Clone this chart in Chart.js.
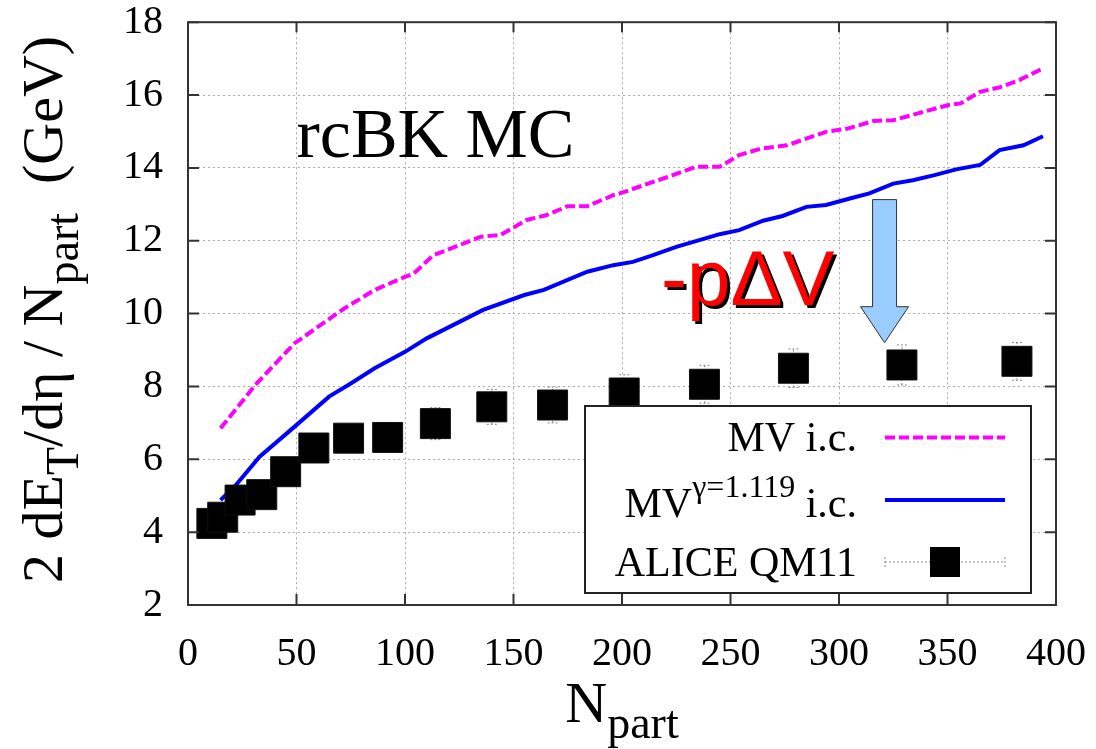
<!DOCTYPE html>
<html>
<head>
<meta charset="utf-8">
<script src="https://cdn.jsdelivr.net/npm/chart.js@4.4.1/dist/chart.umd.min.js"></script>
<style>
  body { margin: 0; background: #fff; }
  #wrap { width: 1096px; height: 749px; }
</style>
</head>
<body>
<div id="wrap"><canvas id="mycanvas" width="1096" height="749"></canvas></div>
<script>
// MV initial condition (dashed magenta)
var npartMV = [15, 31, 49, 72, 86, 100, 104, 113, 135, 144, 156, 165, 175, 184, 196, 199, 221, 234, 245, 254, 264, 276, 294, 304, 316, 325, 336, 350, 356, 365, 374, 383, 394];
var etMV    = [6.85, 8.04, 9.18, 10.14, 10.65, 11.01, 11.1, 11.6, 12.11, 12.16, 12.57, 12.70, 12.95, 12.95, 13.25, 13.3, 13.75, 14.03, 14.03, 14.35, 14.53, 14.62, 14.99, 15.08, 15.29, 15.31, 15.49, 15.72, 15.77, 16.09, 16.21, 16.41, 16.73];

// MV^gamma initial condition (solid blue)
var npartGamma = [15, 22, 33, 49, 65, 75, 86, 100, 110, 136, 155, 164, 184, 196, 205, 214, 225, 238, 245, 254, 265, 274, 285, 294, 305, 314, 325, 334, 344, 354, 365, 374, 385, 394];
var etGamma    = [4.88, 5.29, 6.07, 6.89, 7.72, 8.08, 8.5, 8.95, 9.32, 10.1, 10.51, 10.65, 11.15, 11.33, 11.42, 11.6, 11.83, 12.06, 12.18, 12.29, 12.55, 12.68, 12.93, 12.98, 13.16, 13.3, 13.57, 13.66, 13.8, 13.96, 14.08, 14.49, 14.62, 14.87];

// ALICE QM11 data
var npartAlice = [11, 16, 24, 34, 45, 58, 74, 92, 114, 140, 168, 201, 238, 279, 329, 382];
var etAlice    = [4.24, 4.41, 4.88, 5.03, 5.66, 6.31, 6.58, 6.6, 6.98, 7.44, 7.49, 7.82, 8.06, 8.5, 8.59, 8.69];
var errAlice   = [0.3, 0.3, 0.3, 0.3, 0.3, 0.35, 0.35, 0.4, 0.44, 0.48, 0.49, 0.5, 0.52, 0.53, 0.55, 0.52];

var xTicks = [0, 50, 100, 150, 200, 250, 300, 350, 400];
var yTicks = [2, 4, 6, 8, 10, 12, 14, 16, 18];

// -p dV arrow, in data units
var arrowN = 321, arrowTop = 13.13, arrowHeadStart = 10.19, arrowTip = 9.2;

var SERIF = '"Liberation Serif", "Times New Roman", serif';
var SANS = '"Liberation Sans", Arial, sans-serif';

function pts(xs, ys) {
  var out = [];
  for (var i in xs) out.push({x: xs[i], y: ys[i]});
  return out;
}

function richWidth(ctx, parts) {
  var w = 0;
  parts.forEach(function(p){
    ctx.font = p.size + 'px ' + SERIF;
    w += ctx.measureText(p.t).width;
  });
  return w;
}
function drawRich(ctx, parts, x, y) {
  parts.forEach(function(p){
    ctx.font = p.size + 'px ' + SERIF;
    ctx.fillText(p.t, x, y + (p.dy || 0));
    x += ctx.measureText(p.t).width;
  });
  return x;
}

// keep the plot area fixed, no extra room for overhanging tick labels
function noScalePadding(s) {
  s.paddingTop = 0; s.paddingBottom = 0; s.paddingLeft = 0; s.paddingRight = 0;
}

var decorations = {
  id: 'decorations',
  beforeDatasetsDraw: function(chart) {
    // dotted error bars behind the squares
    var ctx = chart.ctx, xs = chart.scales.x, ys = chart.scales.y;
    ctx.save();
    ctx.strokeStyle = '#888';
    ctx.lineWidth = 1;
    ctx.setLineDash([2, 2]);
    for (var i in npartAlice) {
      var px = xs.getPixelForValue(npartAlice[i]);
      var y1 = ys.getPixelForValue(etAlice[i] - errAlice[i]);
      var y2 = ys.getPixelForValue(etAlice[i] + errAlice[i]);
      ctx.beginPath();
      ctx.moveTo(px, y1); ctx.lineTo(px, y2);
      ctx.moveTo(px - 5, y1); ctx.lineTo(px + 5, y1);
      ctx.moveTo(px - 5, y2); ctx.lineTo(px + 5, y2);
      ctx.stroke();
    }
    ctx.restore();
  },
  afterDatasetsDraw: function(chart) {
    var ctx = chart.ctx, ca = chart.chartArea, xs = chart.scales.x, ys = chart.scales.y;
    ctx.save();

    // legend box
    var lw = 446, lh = 187;
    var lx = ca.right - 25 - lw, ly = ca.bottom - 12 - lh;
    ctx.fillStyle = '#fff';
    ctx.fillRect(lx, ly, lw, lh);
    ctx.strokeStyle = '#222';
    ctx.lineWidth = 2;
    ctx.strokeRect(lx, ly, lw, lh);

    ctx.fillStyle = '#000';
    ctx.textBaseline = 'alphabetic';
    ctx.textAlign = 'right';
    ctx.font = '42px ' + SERIF;
    var tx = lx + 272;
    ctx.fillText('MV i.c.', tx, ly + 45);
    ctx.fillText('ALICE QM11', tx, ly + 170);
    ctx.textAlign = 'left';
    var row2 = [{t: 'MV', size: 42}, {t: '\u03b3=1.119', size: 32, dy: -20}, {t: ' i.c.', size: 42}];
    drawRich(ctx, row2, tx - richWidth(ctx, row2), ly + 111);

    var sx1 = lx + 300, sx2 = lx + 420;
    ctx.lineWidth = 4;
    ctx.strokeStyle = '#ff00ff';
    ctx.setLineDash([10, 4]);
    ctx.beginPath(); ctx.moveTo(sx1, ly + 31.5); ctx.lineTo(sx2, ly + 31.5); ctx.stroke();
    ctx.setLineDash([]);
    ctx.strokeStyle = '#0000ff';
    ctx.beginPath(); ctx.moveTo(sx1, ly + 94); ctx.lineTo(sx2, ly + 94); ctx.stroke();
    ctx.strokeStyle = '#888';
    ctx.lineWidth = 1;
    ctx.setLineDash([2, 2]);
    var ry = ly + 156;
    ctx.beginPath();
    ctx.moveTo(sx1, ry); ctx.lineTo(sx2, ry);
    ctx.moveTo(sx1, ry - 5); ctx.lineTo(sx1, ry + 5);
    ctx.moveTo(sx2, ry - 5); ctx.lineTo(sx2, ry + 5);
    ctx.stroke();
    ctx.setLineDash([]);
    ctx.fillStyle = '#000';
    ctx.fillRect((sx1 + sx2) / 2 - 15, ry - 15, 30, 30);

    // frame with inward ticks on all four sides
    ctx.strokeStyle = '#333';
    ctx.lineWidth = 2;
    ctx.strokeRect(ca.left, ca.top, ca.right - ca.left, ca.bottom - ca.top);
    ctx.beginPath();
    xTicks.forEach(function(v){
      var px = xs.getPixelForValue(v);
      ctx.moveTo(px, ca.bottom); ctx.lineTo(px, ca.bottom - 11);
      ctx.moveTo(px, ca.top); ctx.lineTo(px, ca.top + 10);
    });
    yTicks.forEach(function(v){
      var py = ys.getPixelForValue(v);
      ctx.moveTo(ca.left, py); ctx.lineTo(ca.left + 11, py);
      ctx.moveTo(ca.right, py); ctx.lineTo(ca.right - 11, py);
    });
    ctx.stroke();

    // rcBK MC label
    ctx.fillStyle = '#000';
    ctx.textAlign = 'left';
    ctx.font = '70px ' + SERIF;
    ctx.fillText('rcBK MC', xs.getPixelForValue(50), ys.getPixelForValue(14.3));

    // -p dV label, red with a black drop shadow
    ctx.font = '78px ' + SANS;
    var px0 = xs.getPixelForValue(218), py0 = ys.getPixelForValue(10.23);
    ctx.fillStyle = '#000';
    ctx.fillText('-p\u0394V', px0 + 3, py0 + 3);
    ctx.fillStyle = '#ff0000';
    ctx.fillText('-p\u0394V', px0, py0);

    // downward arrow
    var ax = xs.getPixelForValue(arrowN);
    var aTop = ys.getPixelForValue(arrowTop), aHead = ys.getPixelForValue(arrowHeadStart), aTip = ys.getPixelForValue(arrowTip);
    ctx.beginPath();
    ctx.moveTo(ax - 12, aTop);
    ctx.lineTo(ax + 12, aTop);
    ctx.lineTo(ax + 12, aHead);
    ctx.lineTo(ax + 24, aHead);
    ctx.lineTo(ax, aTip);
    ctx.lineTo(ax - 24, aHead);
    ctx.lineTo(ax - 12, aHead);
    ctx.closePath();
    ctx.fillStyle = '#99ccff';
    ctx.fill();
    ctx.strokeStyle = '#333';
    ctx.lineWidth = 1;
    ctx.stroke();

    // axis titles
    ctx.fillStyle = '#000';
    var xt = [{t: 'N', size: 58}, {t: 'part', size: 46, dy: 16}];
    drawRich(ctx, xt, (ca.left + ca.right) / 2 - richWidth(ctx, xt) / 2, 722);

    var yt = [{t: '2 dE', size: 58}, {t: 'T', size: 46, dy: 16}, {t: '/d\u03b7 / N', size: 58},
              {t: 'part', size: 46, dy: 16}, {t: '  (GeV)', size: 58}];
    ctx.translate(62, 583);
    ctx.rotate(-Math.PI / 2);
    drawRich(ctx, yt, 0, 0);
    ctx.restore();
  }
};

var chartdata = {
  datasets: [
    {
      label: 'ALICE QM11',
      data: pts(npartAlice, etAlice),
      showLine: false,
      pointStyle: 'rect',
      pointRadius: 21.2,
      pointHoverRadius: 21.2,
      backgroundColor: '#000',
      borderColor: '#111',
      borderWidth: 1,
      order: 0
    },
    {
      label: 'MV gamma i.c.',
      data: pts(npartGamma, etGamma),
      showLine: true,
      borderColor: '#0000ff',
      borderWidth: 4,
      pointRadius: 0,
      tension: 0,
      order: 1
    },
    {
      label: 'MV i.c.',
      data: pts(npartMV, etMV),
      showLine: true,
      borderColor: '#ff00ff',
      borderWidth: 4,
      borderDash: [10, 4],
      pointRadius: 0,
      tension: 0,
      order: 2
    }
  ]
};

var ctx = document.getElementById('mycanvas');
var chart = new Chart(ctx, {
  type: 'scatter',
  data: chartdata,
  plugins: [decorations],
  options: {
    responsive: false,
    animation: false,
    events: [],
    layout: { padding: { left: 0, top: 22, right: 40, bottom: 0 } },
    plugins: { legend: { display: false }, tooltip: { enabled: false } },
    scales: {
      x: {
        type: 'linear', min: 0, max: 400,
        afterBuildTicks: function(s){ s.ticks = xTicks.map(function(v){ return {value: v}; }); },
        afterFit: function(s){ s.height = 144; noScalePadding(s); },
        grid: { color: '#aaa', lineWidth: 1, drawTicks: false },
        border: { display: false, dash: [2, 3] },
        ticks: { padding: 25, color: '#000', font: { family: SERIF, size: 40 } }
      },
      y: {
        type: 'linear', min: 2, max: 18,
        afterBuildTicks: function(s){ s.ticks = yTicks.map(function(v){ return {value: v}; }); },
        afterFit: function(s){ s.width = 188; noScalePadding(s); },
        grid: { color: '#aaa', lineWidth: 1, drawTicks: false },
        border: { display: false, dash: [2, 3] },
        ticks: { padding: 25, color: '#000', font: { family: SERIF, size: 40 } }
      }
    }
  }
});
</script>
</body>
</html>
